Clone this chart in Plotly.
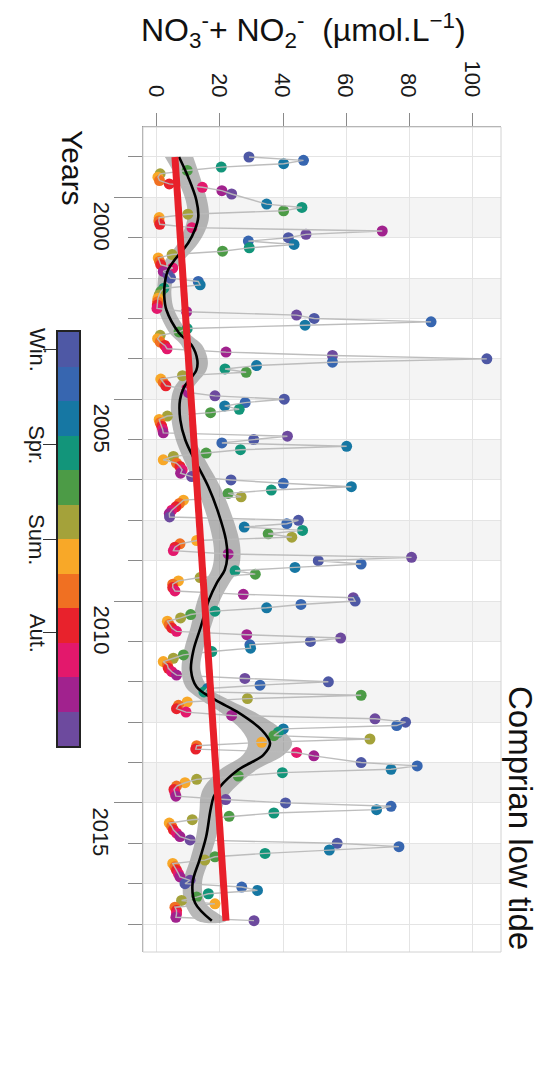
import plotly.graph_objects as go

# ---------------- data (monthly NO3- + NO2-, µmol/L) ----------------
years = list(range(1999, 2018))
v1999 = [29.2, 46.5, 40.2, 20.4, 9.6, 1.0, 0.3, 0.8, 3.9, 14.4, 20.6, 23.7]
v2000 = [None, None, 34.8, 46.0, 40.2, 9.8, 0.7, 0.6, 0.9, 11.1, 71.5, 47.3]
v2001 = [41.7, 29.0, 43.5, 29.3, 20.8, 4.8, 0.4, 0.8, 1.2, 5.0, 2.0, 3.5]
v2002 = [4.3, 13.1, 13.7, 2.2, 1.2, 0.7, 0.3, 0.2, 0.1, 0.0, 9.4, 44.3]
v2003 = [49.9, 87.0, 47.0, 9.6, 7.0, 1.0, 0.2, 1.0, 2.5, 3.2, 21.9, 55.7]
v2004 = [104.7, 55.7, 31.6, 21.6, 28.3, 8.1, 1.2, 2.0, 2.8, 9.4, 10.0, 18.4]
v2005 = [40.4, 28.0, 21.5, 26.1, 17.0, 3.3, 0.7, 1.0, 1.5, 1.8, 2.0, 41.4]
v2006 = [30.7, 20.6, 60.2, 26.5, 15.6, 5.2, 2.0, 6.2, 7.3, 8.0, 7.5, 11.0]
v2007 = [23.5, 40.1, 61.7, 36.3, 22.6, 26.7, 8.4, 7.1, 6.0, 4.7, 3.9, 4.0]
v2008 = [44.9, 41.2, 27.7, 46.2, 35.3, 42.8, 12.6, 7.3, 5.7, 5.2, 22.6, 80.8]
v2009 = [51.2, 64.8, 43.8, 24.8, 31.2, 13.7, 6.8, 5.0, 5.0, 5.7, 27.4, 62.3]
v2010 = [62.9, 45.7, 34.8, 18.4, 10.7, 7.5, 3.3, 3.9, 4.7, 6.2, 28.5, 58.3]
v2011 = [48.7, 29.5, 29.7, 17.4, 8.4, 5.2, 2.0, 3.3, 3.6, 4.7, 6.2, 27.9]
v2012 = [54.4, 32.7, 16.0, 14.9, 64.8, 28.7, 9.6, 6.8, 6.2, 9.2, 23.7, 69.2]
v2013 = [78.9, 76.1, 40.1, 38.5, 37.1, 67.6, 33.2, 12.6, 12.3, 44.3, 49.8, None]
v2014 = [64.8, 82.6, 74.3, 39.8, 25.8, 12.6, 8.9, 6.2, 5.4, 5.7, 6.0, 21.8]
v2015 = [40.8, 74.3, 69.7, 37.1, 22.9, 11.2, 3.9, 4.7, 5.2, 6.2, 7.3, 10.5]
v2016 = [57.2, 76.8, 54.7, 34.3, 18.4, 15.2, 5.0, 5.7, 6.2, 6.8, 7.3, 10.5]
v2017 = [8.9, 26.9, 31.9, 16.3, 12.6, 7.8, 18.4, 5.7, 6.2, 6.2, 6.0, 30.8]
yearly_values = [v1999, v2000, v2001, v2002, v2003, v2004, v2005, v2006, v2007,
                 v2008, v2009, v2010, v2011, v2012, v2013, v2014, v2015, v2016, v2017]

month_colors = ["#4E58A5", "#3766B0", "#1677A3", "#12957A", "#4C9B46", "#A4A23A",
                "#F8A828", "#F07022", "#E8222C", "#E3186C", "#A1228E", "#6D4A9E"]

# smoother (GAM-like)
smooth_t = [1999.0, 1999.50, 2000.07, 2000.49, 2000.81, 2001.13, 2001.56, 2001.80, 2002.12,
            2002.45, 2002.79, 2003.36, 2003.66, 2004.03, 2004.28, 2004.70, 2005.02, 2005.51,
            2006.01, 2006.51, 2007.17, 2007.82, 2008.49, 2008.91, 2009.23, 2009.55, 2009.97,
            2010.64, 2011.21, 2011.71, 2012.13, 2012.45, 2012.77, 2013.19, 2013.52, 2013.81,
            2014.18, 2014.60, 2014.85, 2015.17, 2015.84, 2016.41, 2016.98, 2017.48, 2017.92]
smooth_v = [7.0, 9.9, 12.5, 13.1, 12.0, 9.9, 5.5, 3.5, 2.5, 2.3, 3.0, 7.0, 11.0, 12.8, 12.5,
            8.6, 7.3, 7.4, 9.0, 12.0, 16.3, 19.5, 21.9, 22.3, 21.5, 19.0, 16.5, 13.9, 11.6,
            10.8, 12.6, 18.5, 26.0, 33.2, 35.9, 33.8, 25.8, 20.0, 18.0, 17.0, 15.6, 13.5,
            11.3, 12.1, 17.4]
smooth_hw = [4.5, 3.8, 3.4, 3.4, 3.4, 3.2, 2.9, 2.6, 2.3, 2.3, 2.5, 3.0, 3.3, 3.3, 3.2,
             3.0, 2.8, 2.8, 3.0, 3.4, 3.8, 4.0, 4.2, 4.2, 4.2, 4.0, 3.6, 3.2, 3.0, 3.0,
             3.5, 4.5, 5.5, 6.5, 7.0, 6.5, 5.8, 5.0, 4.2, 3.5, 3.2, 3.0, 3.0, 3.3, 4.6]

# linear trend
trend_t = [1999.0, 2017.92]
trend_v = [5.7, 21.9]

x_ticks = [0, 20, 40, 60, 80, 100]
year_labels = [2000, 2005, 2010, 2015]
year_bounds = list(range(1999, 2019))
shaded_years = [2000, 2002, 2004, 2006, 2008, 2010, 2012, 2014, 2016]
season_labels = ["Win.", "Spr.", "Sum.", "Aut."]
season_pos = [1.02, 3.75, 6.5, 9.22]
months = list(range(1, 13))

# ---------------- geometry (pixels) ----------------
W, H = 559, 1086
PL, PR, PT, PB = 143, 501, 127, 952
def px(x):
    return x / W
def py(y):
    return 1 - y / H

FONT = "Liberation Sans, Arial, sans-serif"

# ---------------- build series ----------------
t_all, v_all, c_all = [], [], []
for yr, vals in zip(years, yearly_values):
    for m, v in zip(months, vals):
        t_all.append(yr + (m - 1) / 12)
        v_all.append(v)
        c_all.append(month_colors[m - 1])

fig = go.Figure()

# confidence band of the smoother
upper = [v + h for v, h in zip(smooth_v, smooth_hw)]
lower = [v - h for v, h in zip(smooth_v, smooth_hw)]
fig.add_trace(go.Scatter(
    x=upper + lower[::-1], y=smooth_t + smooth_t[::-1],
    fill="toself", fillcolor="rgba(125,125,125,0.55)",
    line=dict(width=0, shape="spline"), mode="lines", hoverinfo="skip"))

# points
fig.add_trace(go.Scatter(
    x=v_all, y=t_all, mode="markers",
    marker=dict(size=11, color=c_all, line=dict(width=0)), hoverinfo="skip"))

# connecting line
fig.add_trace(go.Scatter(
    x=v_all, y=t_all, mode="lines", connectgaps=True,
    line=dict(color="rgba(185,185,185,0.95)", width=1.4), hoverinfo="skip"))

# smoother
fig.add_trace(go.Scatter(
    x=smooth_v, y=smooth_t, mode="lines",
    line=dict(color="black", width=2.6, shape="spline"), hoverinfo="skip"))

# trend
fig.add_trace(go.Scatter(
    x=trend_v, y=trend_t, mode="lines",
    line=dict(color="#E8202A", width=7), hoverinfo="skip"))

# colour bar (months)
cs = []
for i, c in enumerate(month_colors):
    cs.append([i / 12, c])
    cs.append([(i + 1) / 12, c])
fig.add_trace(go.Heatmap(
    z=[[m] for m in months], x=[0], y=months, colorscale=cs,
    zmin=0.5, zmax=12.5, showscale=False, xaxis="x2", yaxis="y2", hoverinfo="skip"))

shapes = []
for yr in shaded_years:
    shapes.append(dict(type="rect", xref="paper", yref="y", x0=px(PL), x1=px(PR),
                       y0=yr, y1=yr + 1, fillcolor="#f4f4f4", line=dict(width=0),
                       layer="below"))
shapes.append(dict(type="rect", xref="paper", yref="paper", x0=px(PL), x1=px(PR),
                   y0=py(PB), y1=py(PT), line=dict(color="#d2d2d2", width=1),
                   fillcolor="rgba(0,0,0,0)", layer="above"))

ann = []
for v in x_ticks:
    ann.append(dict(text=str(v), x=v, xref="x", y=py(99), yref="paper",
                    xanchor="center", yanchor="bottom", textangle=90, showarrow=False,
                    font=dict(size=22, color="#1a1a1a", family=FONT)))
for yl in year_labels:
    ann.append(dict(text=str(yl), x=px(101), xref="paper", y=yl, yref="y",
                    xanchor="center", yanchor="top", yshift=-2, textangle=90,
                    showarrow=False, font=dict(size=22, color="#1a1a1a", family=FONT)))
for lab, pos in zip(season_labels, season_pos):
    ann.append(dict(text=lab, x=px(37), xref="paper", y=pos, yref="y2",
                    xanchor="center", yanchor="middle", textangle=90, showarrow=False,
                    font=dict(size=22, color="#1a1a1a", family=FONT)))
ann.append(dict(text="NO<sub>3</sub><sup>-</sup>+ NO<sub>2</sub><sup>-</sup>&nbsp;&nbsp;(µmol.L<sup>\u22121</sup>)",
                x=px(303), xref="paper", y=py(30), yref="paper", xanchor="center",
                yanchor="middle", showarrow=False,
                font=dict(size=32, color="#111", family=FONT)))
ann.append(dict(text="Years", x=px(73), xref="paper", y=py(168), yref="paper",
                xanchor="center", yanchor="middle", textangle=90, showarrow=False,
                font=dict(size=30, color="#111", family=FONT)))
ann.append(dict(text="Comprian low tide", x=px(521), xref="paper", y=py(952), yref="paper",
                xanchor="center", yanchor="bottom", textangle=90, showarrow=False,
                font=dict(size=33, color="#111", family=FONT)))

fig.update_layout(
    width=W, height=H, margin=dict(l=0, r=0, t=0, b=0),
    paper_bgcolor="white", plot_bgcolor="white", showlegend=False,
    font=dict(family=FONT),
    xaxis=dict(domain=[px(PL), px(PR)], range=[-4.44, 109.2], side="top", anchor="y",
               tickvals=x_ticks, showticklabels=False, ticks="outside", ticklen=13,
               tickcolor="#8a8a8a", tickwidth=1.2, showgrid=True, gridcolor="#e4e4e4",
               gridwidth=1, zeroline=False, showline=True, linecolor="#9a9a9a", linewidth=1.4),
    yaxis=dict(domain=[py(PB), py(PT)], range=[2018.693, 1998.257], anchor="x",
               tickvals=year_labels, showticklabels=False, ticks="outside", ticklen=28,
               tickcolor="#8a8a8a", tickwidth=1.2, showgrid=True, gridcolor="#e4e4e4",
               zeroline=False, showline=True, linecolor="#9a9a9a", linewidth=1.4,
               minor=dict(tickvals=year_bounds, ticks="outside", ticklen=14,
                          tickcolor="#8a8a8a", tickwidth=1.2, showgrid=True,
                          gridcolor="#e4e4e4")),
    xaxis2=dict(domain=[px(58), px(79)], range=[-0.5, 0.5], anchor="y2",
                showticklabels=False, ticks="", showgrid=False, zeroline=False,
                showline=True, mirror=True, linecolor="#222", linewidth=1.5),
    yaxis2=dict(domain=[py(746), py(332)], range=[12.5, 0.5], anchor="x2",
                tickvals=season_pos, showticklabels=False, ticks="outside", ticklen=13,
                tickcolor="#333", tickwidth=1.3, showgrid=False, zeroline=False,
                showline=True, mirror=True, linecolor="#222", linewidth=1.5),
    shapes=shapes, annotations=ann,
)

fig.write_html("out.html")
